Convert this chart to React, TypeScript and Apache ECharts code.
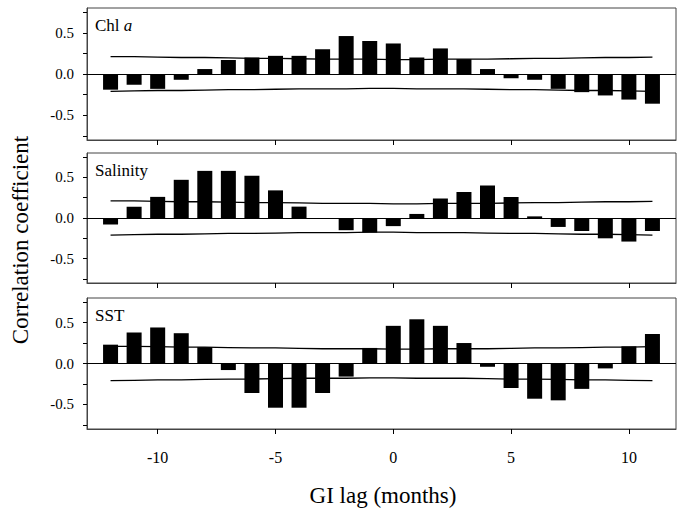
import React, { useEffect, useRef } from "react";
import * as echarts from "echarts";

const lags = [-12, -11, -10, -9, -8, -7, -6, -5, -4, -3, -2, -1, 0, 1, 2, 3, 4, 5, 6, 7, 8, 9, 10, 11];

const chlA = [-0.19, -0.13, -0.18, -0.07, 0.06, 0.17, 0.2, 0.22, 0.22, 0.3, 0.46, 0.4, 0.37, 0.2, 0.31, 0.18, 0.06, -0.05, -0.07, -0.18, -0.22, -0.26, -0.31, -0.36];
const salinity = [-0.08, 0.14, 0.26, 0.47, 0.58, 0.58, 0.52, 0.34, 0.14, 0.0, -0.15, -0.18, -0.1, 0.05, 0.24, 0.32, 0.4, 0.26, 0.02, -0.11, -0.16, -0.25, -0.29, -0.16];
const sst = [0.23, 0.38, 0.44, 0.37, 0.2, -0.08, -0.36, -0.54, -0.54, -0.36, -0.16, 0.19, 0.46, 0.54, 0.46, 0.25, -0.04, -0.3, -0.43, -0.45, -0.31, -0.06, 0.21, 0.36];

const ciUpper = [0.21, 0.21, 0.205, 0.2, 0.2, 0.195, 0.19, 0.19, 0.185, 0.18, 0.18, 0.18, 0.175, 0.175, 0.18, 0.18, 0.18, 0.185, 0.19, 0.19, 0.195, 0.2, 0.2, 0.205];
const ciLower = [-0.21, -0.205, -0.2, -0.2, -0.195, -0.19, -0.19, -0.185, -0.18, -0.18, -0.18, -0.175, -0.175, -0.18, -0.18, -0.18, -0.185, -0.19, -0.19, -0.195, -0.2, -0.2, -0.205, -0.21];

const xTicks = [-10, -5, 0, 5, 10];
const yTicks = [-0.75, -0.5, -0.25, 0, 0.25, 0.5, 0.75];
const yLabels = [-0.5, 0, 0.5];

const panelNames = ["Chl", "Salinity", "SST"];
const FONT = "Liberation Serif";

export default function App() {
  const ref = useRef<HTMLDivElement>(null);
  useEffect(() => {
    document.body.style.margin = "0";
    if (!ref.current) return;
    const chart = echarts.init(ref.current, null, { renderer: "svg" });
    const panels = [chlA, salinity, sst];
    const tops = [8, 153, 298];
    const heights = [132, 130, 131];
    const grids = tops.map((t, i) => ({
      left: 87,
      top: t,
      width: 589,
      height: heights[i],
      show: true,
      borderColor: "#444",
      borderWidth: 1,
      containLabel: false,
    }));
    const xAxes = tops.map((_, i) => ({
      type: "value",
      gridIndex: i,
      min: -13,
      max: 12,
      splitLine: { show: false },
      axisLine: { show: true, onZero: false, lineStyle: { color: "#444", width: 1 } },
      axisTick: { show: true, inside: false, length: 5, customValues: xTicks, lineStyle: { color: "#000" } },
      axisLabel: {
        show: i === 2,
        customValues: xTicks,
        margin: 20,
        fontFamily: FONT,
        fontSize: 16,
        color: "#000",
      },
    }));
    const yAxes = tops.map((_, i) => ({
      type: "value",
      gridIndex: i,
      min: -0.8,
      max: 0.8,
      splitLine: { show: false },
      axisLine: { show: true, onZero: false, lineStyle: { color: "#444", width: 1 } },
      axisTick: { show: true, inside: false, length: 4, customValues: yTicks, lineStyle: { color: "#000" } },
      axisLabel: {
        customValues: yLabels,
        formatter: (v: number) => v.toFixed(1),
        margin: 13,
        fontFamily: FONT,
        fontSize: 15,
        color: "#000",
      },
    }));
    const series: any[] = [];
    panels.forEach((vals, i) => {
      series.push({
        type: "bar",
        xAxisIndex: i,
        yAxisIndex: i,
        barWidth: 15,
        itemStyle: { color: "#000" },
        data: lags.map((l, j) => [l, vals[j]]),
        markLine: {
          silent: true,
          symbol: "none",
          label: { show: false },
          lineStyle: { color: "#000", width: 1, type: "solid" },
          data: [{ yAxis: 0 }],
        },
      });
      series.push({
        type: "line",
        xAxisIndex: i,
        yAxisIndex: i,
        symbol: "none",
        lineStyle: { color: "#000", width: 1.3 },
        data: lags.map((l, j) => [l, ciUpper[j]]),
        z: 3,
      });
      series.push({
        type: "line",
        xAxisIndex: i,
        yAxisIndex: i,
        symbol: "none",
        lineStyle: { color: "#000", width: 1.3 },
        data: lags.map((l, j) => [l, ciLower[j]]),
        z: 3,
      });
    });
    const labelStyle = { fontFamily: FONT, fontSize: 17, fill: "#000" };
    chart.setOption({
      animation: false,
      backgroundColor: "#fff",
      grid: grids,
      xAxis: xAxes,
      yAxis: yAxes,
      series,
      graphic: [
        {
          type: "text",
          left: 95,
          top: 17,
          style: {
            text: "{n|Chl }{i|a}",
            rich: {
              n: { fontFamily: FONT, fontSize: 17, fill: "#000" },
              i: { fontFamily: FONT, fontSize: 17, fontStyle: "italic", fill: "#000" },
            },
          },
        },
        { type: "text", left: 95, top: 162, style: { text: panelNames[1], ...labelStyle } },
        { type: "text", left: 95, top: 307, style: { text: panelNames[2], ...labelStyle } },
        {
          type: "text",
          x: 20,
          y: 240,
          rotation: Math.PI / 2,
          style: {
            text: "Correlation coefficient",
            fontFamily: FONT,
            fontSize: 23,
            fill: "#000",
            align: "center",
            verticalAlign: "middle",
          },
        },
        {
          type: "text",
          x: 383,
          y: 495,
          style: {
            text: "GI lag (months)",
            fontFamily: FONT,
            fontSize: 23,
            fill: "#000",
            align: "center",
            verticalAlign: "middle",
          },
        },
      ],
    });
    return () => chart.dispose();
  }, []);
  return <div ref={ref} style={{ width: 677, height: 514 }} />;
}
